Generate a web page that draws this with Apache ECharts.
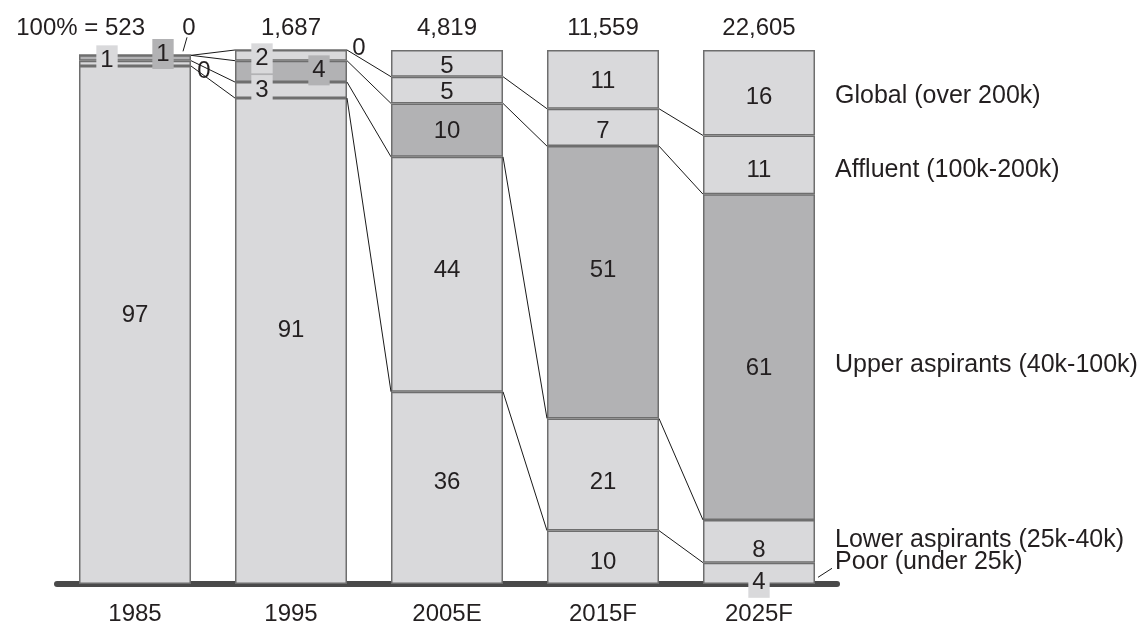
<!DOCTYPE html>
<html>
<head>
<meta charset="utf-8">
<title>Income segments</title>
<script src="https://cdn.jsdelivr.net/npm/echarts@6/dist/echarts.min.js"></script>
<style>
  html, body { margin: 0; padding: 0; background: #ffffff; }
  #chart { width: 1146px; height: 623px; }
</style>
</head>
<body>
<div id="chart"></div>
<script>
// Categories and totals (100% base for each column)
const categories = ['1985', '1995', '2005E', '2015F', '2025F'];
const totals = ['523', '1,687', '4,819', '11,559', '22,605'];

// Share of each income segment, percent (bottom to top)
const poor = [97, 91, 36, 10, 4];
const lowerAspirants = [1, 3, 44, 21, 8];
const upperAspirants = [1, 4, 10, 51, 61];
const affluent = [0, 2, 5, 7, 11];
const globalSegment = [0, 0, 5, 11, 16];

const segmentNames = [
  'Poor (under 25k)',
  'Lower aspirants (25k-40k)',
  'Upper aspirants (40k-100k)',
  'Affluent (100k-200k)',
  'Global (over 200k)'
];

// ---- styling ----
const LIGHT = '#d9d9db';
const DARK = '#b2b2b4';
const BORDER = '#6e6e6e';
const TEXT = '#231f20';
const FONT = '"Liberation Sans", Arial, Helvetica, sans-serif';
const BAR_RATIO = 0.718;

const seriesValues = [poor, lowerAspirants, upperAspirants, affluent, globalSegment];
const seriesColors = [LIGHT, LIGHT, DARK, LIGHT, LIGHT];

// label placement per segment, keyed "series-column"
const labelTweaks = {
  '0-0': { offset: [0, -10] },
  '0-1': { offset: [0, -10.5] },
  '0-2': { offset: [0, -5.5] },
  '0-3': { offset: [0, 5.5] },
  '0-4': { offset: [0, 9.5], bg: LIGHT },
  '1-0': { offset: [-28, -3], bg: LIGHT },
  '1-1': { offset: [-29, 0], bg: LIGHT },
  '1-2': { offset: [0, -3.5] },
  '1-3': { offset: [0, 8] },
  '1-4': { offset: [0, 9] },
  '2-0': { offset: [28, -4], bg: DARK },
  '2-1': { offset: [28, -1], bg: DARK },
  '2-2': { offset: [0, 1] },
  '2-3': { offset: [0, -12] },
  '2-4': { offset: [0, 11.5] },
  '3-0': { offset: [69, 16], bg: '#ffffff' },
  '3-1': { offset: [-29, 3], bg: LIGHT },
  '3-2': { offset: [0, 2.5] },
  '3-3': { offset: [0, 4] },
  '3-4': { offset: [0, 5.5] },
  '4-0': { offset: [54, -27] },
  '4-1': { offset: [68, -2] },
  '4-2': { offset: [0, 3.5] },
  '4-3': { offset: [0, 2.5] },
  '4-4': { offset: [0, 4.5] }
};

// vertical nudges of the segment names beside the last column
const sideOffsets = [-11, -1, 8, 5, 3];

function boundaries(i) {
  const out = [];
  let acc = 0;
  for (let s = 0; s < seriesValues.length; s++) {
    acc += seriesValues[s][i];
    out.push(acc);
  }
  return out;
}

const barSeries = seriesValues.map((vals, s) => ({
  name: segmentNames[s],
  type: 'bar',
  stack: 'share',
  barWidth: (BAR_RATIO * 100) + '%',
  z: 2,
  itemStyle: { color: seriesColors[s], borderColor: BORDER, borderWidth: 1.5 },
  label: {
    show: true,
    position: 'inside',
    color: TEXT,
    fontFamily: FONT,
    fontSize: 24,
    formatter: '{c}'
  },
  data: vals.map((v, i) => {
    const t = labelTweaks[s + '-' + i];
    if (!t) return v;
    const lab = { offset: t.offset };
    if (t.bg) { lab.backgroundColor = t.bg; lab.padding = [3, 4]; }
    return { value: v, label: lab };
  })
}));

function renderOverlay(params, api) {
  const i = params.dataIndex;
  const n = categories.length;
  const half = api.size([1, 0])[0] * BAR_RATIO / 2;
  const cx = api.coord([i, 0])[0];
  const cum = boundaries(i);
  const children = [];
  const lineStyle = { stroke: '#1a1a1a', lineWidth: 1 };

  // connectors between matching segment boundaries of neighbouring columns
  if (i < n - 1) {
    const nx = api.coord([i + 1, 0])[0];
    const next = boundaries(i + 1);
    for (let k = 0; k < 4; k++) {
      children.push({
        type: 'line',
        shape: {
          x1: cx + half, y1: api.coord([i, cum[k]])[1],
          x2: nx - half, y2: api.coord([i + 1, next[k]])[1]
        },
        style: lineStyle
      });
    }
  }

  // column totals
  const yHead = api.coord([i, 100])[1] - 22;
  children.push({
    type: 'text',
    style: {
      text: i === 0 ? '100% = ' + totals[i] : totals[i],
      x: i === 0 ? cx + 10 : cx,
      y: yHead,
      align: i === 0 ? 'right' : 'center',
      verticalAlign: 'middle',
      fill: TEXT,
      font: '24px ' + FONT
    }
  });

  // leader for the zero label above the first column
  if (i === 0) {
    const yTop = api.coord([i, cum[4]])[1];
    children.push({
      type: 'line',
      shape: { x1: cx + 52, y1: yTop - 18, x2: cx + 48, y2: yTop - 4 },
      style: lineStyle
    });
  }

  // segment names beside the last column
  if (i === n - 1) {
    const xr = cx + half;
    let prev = 0;
    for (let k = 0; k < 5; k++) {
      const yc = api.coord([i, (prev + cum[k]) / 2])[1];
      children.push({
        type: 'text',
        style: {
          text: segmentNames[k],
          x: xr + 20,
          y: yc + sideOffsets[k],
          align: 'left',
          verticalAlign: 'middle',
          fill: TEXT,
          font: '25px ' + FONT
        }
      });
      if (k === 0) {
        children.push({
          type: 'line',
          shape: { x1: xr + 3, y1: yc + 4, x2: xr + 17, y2: yc - 5 },
          style: lineStyle
        });
      }
      prev = cum[k];
    }
  }

  return { type: 'group', children: children };
}

const chart = echarts.init(document.getElementById('chart'), null, { renderer: 'canvas' });
chart.setOption({
  backgroundColor: '#ffffff',
  animation: false,
  textStyle: { fontFamily: FONT },
  grid: {
    left: 57, right: 309, top: 50, bottom: 39,
    containLabel: false,
    outerBoundsMode: 'none'
  },
  xAxis: {
    type: 'category',
    data: categories,
    axisTick: { show: false },
    axisLine: { show: true, lineStyle: { color: '#4a4a4a', width: 6 } },
    axisLabel: { color: TEXT, fontSize: 24, fontFamily: FONT, margin: 18 },
    splitLine: { show: false }
  },
  yAxis: {
    type: 'value',
    min: 0,
    max: 100,
    show: false,
    splitLine: { show: false }
  },
  series: barSeries.concat([{
    type: 'custom',
    renderItem: renderOverlay,
    clip: false,
    z: 3,
    silent: true,
    encode: { x: 0, y: 1 },
    data: categories.map((c, i) => [i, 100])
  }])
});
</script>
</body>
</html>
